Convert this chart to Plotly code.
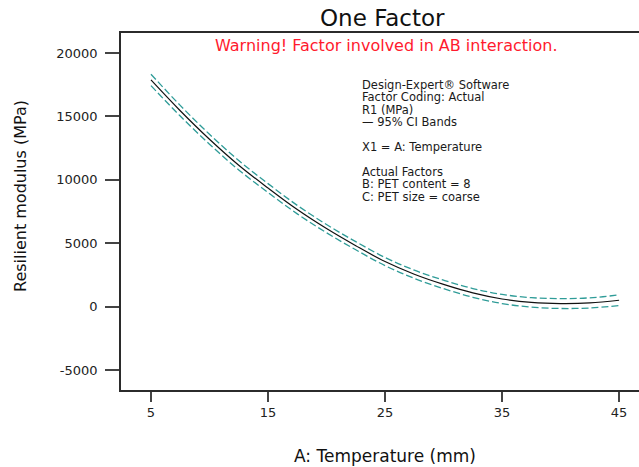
import plotly.graph_objects as go

# Predicted resilient modulus vs temperature with 95% CI bands
temperature = [5, 7.5, 10, 12.5, 15, 17.5, 20, 22.5, 25, 27.5, 30, 32.5, 35, 37.5, 40, 42.5, 45]
r1_pred = [17880, 15450, 13200, 11150, 9350, 7650, 6150, 4800, 3550, 2550, 1750, 1080, 600, 330, 240, 290, 500]
ci_upper = [18330, 15870, 13590, 11520, 9700, 7985, 6475, 5120, 3870, 2875, 2085, 1425, 960, 705, 630, 690, 920]
ci_lower = [17430, 15030, 12810, 10780, 9000, 7315, 5825, 4480, 3230, 2225, 1415, 735, 240, -45, -150, -110, 80]

x_ticks = [5, 15, 25, 35, 45]
y_ticks = [-5000, 0, 5000, 10000, 15000, 20000]

info_lines = [
    "Design-Expert® Software",
    "Factor Coding: Actual",
    "R1 (MPa)",
    "— 95% CI Bands",
    "",
    "X1 = A: Temperature",
    "",
    "Actual Factors",
    "B: PET content = 8",
    "C: PET size = coarse",
]

band_color = "#2f9c98"
axis_color = "#2b2b2b"
font_family = "DejaVu Sans, Arial, sans-serif"

W, H = 639, 467
L, R, T, B = 121, 0, 33, 77
plot_w, plot_h = W - L - R, H - T - B


def px_to_paper(px, py):
    """Convert page pixel position to paper coordinates of the plot area."""
    return (px - L) / plot_w, (H - B - py) / plot_h


fig = go.Figure()
fig.add_trace(go.Scatter(x=temperature, y=ci_upper, mode="lines", line_shape="spline",
                         line=dict(color=band_color, width=1.3, dash="7px,3px"), hoverinfo="skip"))
fig.add_trace(go.Scatter(x=temperature, y=ci_lower, mode="lines", line_shape="spline",
                         line=dict(color=band_color, width=1.3, dash="7px,3px"), hoverinfo="skip"))
fig.add_trace(go.Scatter(x=temperature, y=r1_pred, mode="lines", line_shape="spline",
                         line=dict(color="#111111", width=1.2)))

fig.update_layout(
    width=W, height=H,
    margin=dict(l=L, r=R, t=T, b=B),
    paper_bgcolor="white", plot_bgcolor="white",
    showlegend=False,
    font=dict(family=font_family, color="#222222"),
)
fig.update_xaxes(
    range=[2.44, 46.7], tickvals=x_ticks, ticktext=[str(v) for v in x_ticks],
    showgrid=False, zeroline=False,
    showline=True, linecolor=axis_color, linewidth=1.5, mirror=True,
    ticks="outside", ticklen=10, tickwidth=1.5, tickcolor="#444444",
    tickfont=dict(size=13, color="#222222"),
)
fig.update_yaxes(
    range=[-6580, 21580], tickvals=y_ticks, ticktext=[str(v) for v in y_ticks],
    showgrid=False, zeroline=False,
    showline=True, linecolor=axis_color, linewidth=1.5,
    ticks="outside", ticklen=14, tickwidth=1.5, tickcolor="#444444",
    tickfont=dict(size=13, color="#222222"), ticklabelstandoff=5,
)

anns = []


def add_text(text, px, py, size, color, xanchor="center", angle=0):
    x, y = px_to_paper(px, py)
    anns.append(dict(text=text, x=x, y=y, xref="paper", yref="paper", showarrow=False,
                     xanchor=xanchor, yanchor="middle", textangle=angle,
                     font=dict(size=size, color=color)))


add_text("One Factor", 382, 18, 23, "#111111")
add_text("Warning! Factor involved in AB interaction.", 386, 46, 16, "#ff1a2e")
add_text("Resilient modulus (MPa)", 20, 196, 16, "#111111", angle=-90)
add_text("A: Temperature (mm)", 385, 456, 17, "#111111")

y0, step = 85, 12.4
for i, line in enumerate(info_lines):
    if line:
        add_text(line, 360, y0 + i * step, 11.5, "#1a1a1a", xanchor="left")

fig.update_layout(annotations=anns)

fig.write_html("out.html")
